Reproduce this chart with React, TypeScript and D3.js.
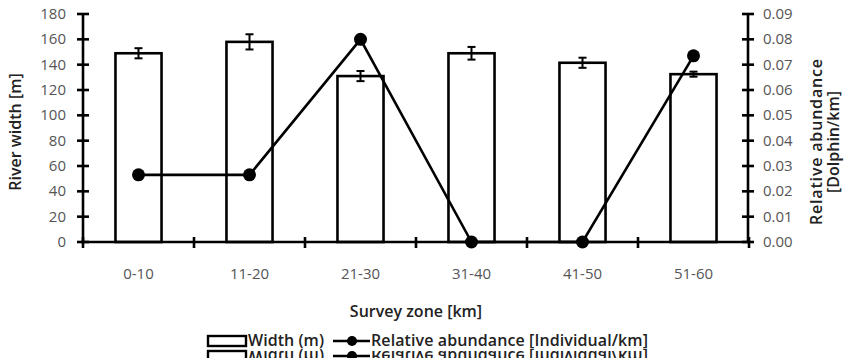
import { useRef, useEffect } from 'react';
import * as d3 from 'd3';

const zones = ['0-10', '11-20', '21-30', '31-40', '41-50', '51-60'];
const widthM = [149, 158, 131, 149, 141.5, 132.5];
const widthErr = [4, 6, 4, 5, 4, 2];
const abundance = [0.0265, 0.0265, 0.08, 0, 0, 0.0735];
const leftTicks = [0, 20, 40, 60, 80, 100, 120, 140, 160, 180];
const rightTicks = [0, 0.01, 0.02, 0.03, 0.04, 0.05, 0.06, 0.07, 0.08, 0.09];

const W = 844, H = 358;
const FONT = '"Open Sans", sans-serif';

export default function App() {
  const svgRef = useRef<SVGSVGElement>(null);

  useEffect(() => {
    const svg = d3.select(svgRef.current);
    svg.selectAll('*').remove();

    const x0 = 83, x1 = 749, yTop = 14, yBase = 242;
    const x = d3.scaleBand<string>().domain(zones).range([x0, x1]);
    const yL = d3.scaleLinear().domain([0, 180]).range([yBase, yTop]);
    const yR = d3.scaleLinear().domain([0, 0.09]).range([yBase, yTop]);
    const bw = x.bandwidth() * 0.415;
    const cx = (d: string) => (x(d) ?? 0) + x.bandwidth() / 2;

    // bars
    svg.append('g').selectAll('rect').data(zones).join('rect')
      .attr('x', d => cx(d) - bw / 2)
      .attr('y', (d, i) => yL(widthM[i]))
      .attr('width', bw)
      .attr('height', (d, i) => yBase - yL(widthM[i]))
      .attr('fill', '#fff').attr('stroke', '#000').attr('stroke-width', 2.6);

    // error bars
    const eb = svg.append('g').attr('stroke', '#000').attr('stroke-width', 2);
    zones.forEach((z, i) => {
      const c = cx(z), hi = yL(widthM[i] + widthErr[i]), lo = yL(widthM[i] - widthErr[i]);
      eb.append('line').attr('x1', c).attr('x2', c).attr('y1', hi).attr('y2', lo);
      eb.append('line').attr('x1', c - 4).attr('x2', c + 4).attr('y1', hi).attr('y2', hi);
      eb.append('line').attr('x1', c - 4).attr('x2', c + 4).attr('y1', lo).attr('y2', lo);
    });

    // abundance line
    const line = d3.line<number>().x((d, i) => cx(zones[i])).y(d => yR(d));
    svg.append('path').datum(abundance)
      .attr('d', line).attr('fill', 'none').attr('stroke', '#000').attr('stroke-width', 2.6);
    svg.append('g').selectAll('circle').data(abundance).join('circle')
      .attr('cx', (d, i) => cx(zones[i])).attr('cy', d => yR(d)).attr('r', 6.5).attr('fill', '#000');

    // axes
    const ax = svg.append('g').attr('stroke', '#000').attr('stroke-width', 2.6);
    ax.append('line').attr('x1', x0).attr('x2', x0).attr('y1', yTop).attr('y2', yBase);
    ax.append('line').attr('x1', x1 - 1).attr('x2', x1 - 1).attr('y1', yTop).attr('y2', yBase);
    ax.append('line').attr('x1', x0 - 2).attr('x2', x1 + 1).attr('y1', yBase).attr('y2', yBase);
    leftTicks.forEach(t => {
      ax.append('line').attr('x1', x0 - 6).attr('x2', x0 + 6).attr('y1', yL(t)).attr('y2', yL(t));
    });
    rightTicks.forEach(t => {
      ax.append('line').attr('x1', x1 - 7).attr('x2', x1 + 5).attr('y1', yR(t)).attr('y2', yR(t));
    });
    [...zones.map(z => x(z) ?? 0), x1].forEach(p => {
      ax.append('line').attr('x1', p).attr('x2', p).attr('y1', yBase - 5).attr('y2', yBase + 6);
    });

    const txt = svg.append('g').attr('font-family', FONT).attr('font-size', 15).attr('fill', '#555');
    txt.selectAll('.lt').data(leftTicks).join('text').attr('class', 'lt')
      .attr('x', 66).attr('y', d => yL(d) + 5).attr('text-anchor', 'end').text(d => d);
    txt.selectAll('.rt').data(rightTicks).join('text').attr('class', 'rt')
      .attr('x', 763).attr('y', d => yR(d) + 5).text(d => d3.format('.2f')(d));
    txt.selectAll('.xt').data(zones).join('text').attr('class', 'xt')
      .attr('x', d => cx(d)).attr('y', 279).attr('text-anchor', 'middle').text(d => d);

    // titles
    const tt = svg.append('g').attr('font-family', FONT).attr('font-size', 16)
      .attr('font-weight', 600).attr('fill', '#222');
    tt.append('text').attr('x', 416).attr('y', 317).attr('text-anchor', 'middle').text('Survey zone [km]');
    tt.append('text').attr('transform', 'translate(21,132) rotate(-90)')
      .attr('text-anchor', 'middle').text('River width [m]');
    tt.append('text').attr('transform', 'translate(822,142) rotate(-90)')
      .attr('text-anchor', 'middle').attr('textLength', 166).text('Relative abundance');
    tt.append('text').attr('transform', 'translate(839,142) rotate(-90)')
      .attr('text-anchor', 'middle').text('[Dolphin/km]');

    // legend, plus the mirrored ghost copy cut off at the bottom edge
    const drawLegend = (g: d3.Selection<SVGGElement, unknown, null, undefined>) => {
      g.append('rect').attr('x', 208).attr('y', 336).attr('width', 38).attr('height', 10)
        .attr('fill', '#fff').attr('stroke', '#000').attr('stroke-width', 2.4);
      g.append('line').attr('x1', 333).attr('x2', 370).attr('y1', 341).attr('y2', 341)
        .attr('stroke', '#000').attr('stroke-width', 2.6);
      g.append('circle').attr('cx', 352).attr('cy', 341).attr('r', 5).attr('fill', '#000');
      const lt = g.append('g').attr('font-family', FONT).attr('font-size', 16)
        .attr('font-weight', 600).attr('fill', '#222');
      lt.append('text').attr('x', 248).attr('y', 346).attr('textLength', 76).text('Width (m)');
      lt.append('text').attr('x', 371).attr('y', 346).attr('textLength', 277).text('Relative abundance [Individual/km]');
    };
    drawLegend(svg.append('g'));
    svg.append('clipPath').attr('id', 'ghost').append('rect')
      .attr('x', 0).attr('y', 349).attr('width', W).attr('height', 20);
    const ghost = svg.append('g').attr('clip-path', 'url(#ghost)')
      .append('g').attr('transform', `translate(0,${2 * 348.5}) scale(1,-1)`);
    drawLegend(ghost);
  }, []);

  return (
    <svg ref={svgRef} width={W} height={H}
      style={{ position: 'absolute', left: 0, top: 0, background: '#fff' }} />
  );
}
